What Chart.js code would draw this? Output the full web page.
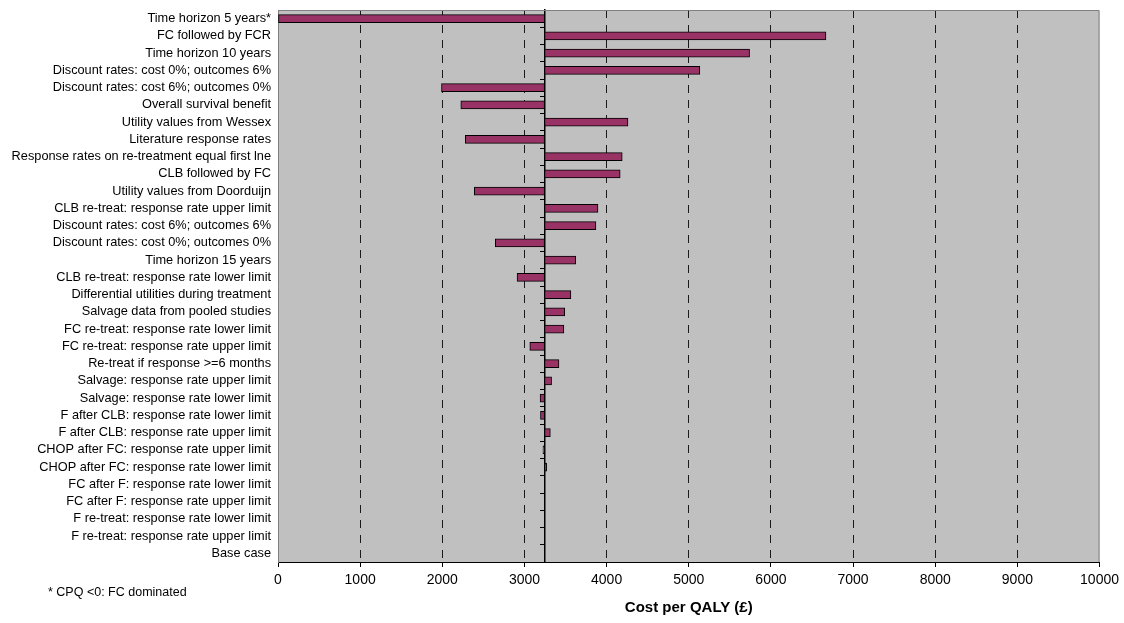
<!DOCTYPE html>
<html>
<head>
<meta charset="utf-8">
<title>Cost per QALY sensitivity analysis</title>
<script src="https://cdn.jsdelivr.net/npm/chart.js@4.4.1/dist/chart.umd.min.js"></script>
<style>
  html, body { margin: 0; padding: 0; background: #ffffff; }
  #wrap { width: 1124px; height: 623px; }
</style>
</head>
<body>
<div id="wrap"><canvas id="c" width="1124" height="623"></canvas></div>
<script>
// Scenario names, top to bottom
const categories = [
  'Time horizon 5 years*',
  'FC followed by FCR',
  'Time horizon 10 years',
  'Discount rates: cost 0%; outcomes 6%',
  'Discount rates: cost 6%; outcomes 0%',
  'Overall survival benefit',
  'Utility values from Wessex',
  'Literature response rates',
  'Response rates on re-treatment equal first lne',
  'CLB followed by FC',
  'Utility values from Doorduijn',
  'CLB re-treat: response rate upper limit',
  'Discount rates: cost 6%; outcomes 6%',
  'Discount rates: cost 0%; outcomes 0%',
  'Time horizon 15 years',
  'CLB re-treat: response rate lower limit',
  'Differential utilities during treatment',
  'Salvage data from pooled studies',
  'FC re-treat: response rate lower limit',
  'FC re-treat: response rate upper limit',
  'Re-treat if response >=6 months',
  'Salvage: response rate upper limit',
  'Salvage: response rate lower limit',
  'F after CLB: response rate lower limit',
  'F after CLB: response rate upper limit',
  'CHOP after FC: response rate upper limit',
  'CHOP after FC: response rate lower limit',
  'FC after F: response rate lower limit',
  'FC after F: response rate upper limit',
  'F re-treat: response rate lower limit',
  'F re-treat: response rate upper limit',
  'Base case'
];

// Base-case cost per QALY (£)
const baseCaseCPQ = 3245;

// Cost per QALY (£) under each scenario (5-year horizon is dominated, shown at axis minimum)
const scenarioCPQ = [
  0, 6670, 5740, 5135, 1990, 2225, 4260, 2280, 4190, 4165, 2390,
  3895, 3870, 2645, 3625, 2910, 3565, 3490, 3480, 3065, 3420,
  3330, 3190, 3195, 3315, 3225, 3270,
  3245, 3245, 3245, 3245, 3245
];

// Axis ticks (£)
const xTickValues = [0, 1000, 2000, 3000, 4000, 5000, 6000, 7000, 8000, 9000, 10000];

const FONT = '"Liberation Sans", Arial, Helvetica, sans-serif';

// Floating bars spanning base case -> scenario value
const barData = scenarioCPQ.map(v => [baseCaseCPQ, v]);

// Grey plot area with a grey frame, plus the footnote
const plotFrame = {
  id: 'plotFrame',
  beforeDraw(chart) {
    const { ctx, chartArea: a } = chart;
    ctx.save();
    ctx.fillStyle = '#C0C0C0';
    ctx.fillRect(a.left, a.top, a.right - a.left, a.bottom - a.top);
    ctx.restore();
  },
  afterDraw(chart) {
    const { ctx, chartArea: a } = chart;
    ctx.save();
    ctx.strokeStyle = '#808080';
    ctx.lineWidth = 1;
    ctx.beginPath();
    ctx.moveTo(a.left + 0.5, a.top + 0.5);
    ctx.lineTo(a.right - 0.5, a.top + 0.5);
    ctx.lineTo(a.right - 0.5, a.bottom);
    ctx.stroke();
    ctx.fillStyle = '#000';
    ctx.font = '12.5px ' + FONT;
    ctx.textAlign = 'left';
    ctx.textBaseline = 'middle';
    ctx.fillText('* CPQ <0: FC dominated', 48, 593);
    ctx.restore();
  }
};

function noVerticalPadding(scale) {
  scale.paddingTop = 0;
  scale.paddingBottom = 0;
}

new Chart(document.getElementById('c'), {
  type: 'bar',
  data: {
    labels: categories,
    datasets: [{
      data: barData,
      backgroundColor: '#993366',
      borderColor: '#000000',
      borderWidth: 1,
      borderSkipped: false,
      barThickness: 8
    }]
  },
  options: {
    indexAxis: 'y',
    responsive: false,
    animation: false,
    devicePixelRatio: 1,
    layout: { padding: { top: 10, right: 23, bottom: 0, left: 0 } },
    plugins: {
      legend: { display: false },
      tooltip: { enabled: false }
    },
    scales: {
      x: {
        type: 'linear',
        position: 'bottom',
        min: 0,
        max: 10000,
        afterBuildTicks(scale) {
          scale.ticks = xTickValues.map(v => ({ value: v }));
        },
        afterFit(scale) { scale.height = 61; },
        grid: {
          color: c => (c.tick && (c.tick.value === 0 || c.tick.value === 10000)) ? 'rgba(0,0,0,0)' : '#1a1a1a',
          tickColor: '#000000',
          lineWidth: 1,
          tickLength: 5
        },
        border: { display: true, color: '#000000', width: 1, dash: [8, 7] },
        ticks: {
          color: '#000000',
          font: { family: FONT, size: 14 },
          padding: 5,
          maxRotation: 0,
          callback: v => String(v)
        },
        title: {
          display: true,
          text: 'Cost per QALY (£)',
          color: '#000000',
          font: { family: FONT, size: 15, weight: 'bold' },
          padding: { top: 0, bottom: 6 }
        }
      },
      y: {
        type: 'category',
        position: 'left',
        offset: true,
        afterFit(scale) { scale.width = 278; noVerticalPadding(scale); },
        grid: { display: false, drawTicks: false, tickLength: 0 },
        border: { display: true, color: '#808080', width: 1 },
        ticks: {
          color: '#000000',
          font: { family: FONT, size: 12.75 },
          padding: 7,
          autoSkip: false
        }
      },
      // Vertical category axis crossing at the base case value
      yBase: {
        type: 'category',
        axis: 'y',
        position: { x: baseCaseCPQ },
        offset: true,
        afterFit: noVerticalPadding,
        grid: {
          display: true,
          offset: true,
          drawOnChartArea: false,
          drawTicks: true,
          tickLength: 4,
          tickColor: '#000000',
          color: '#000000'
        },
        border: { display: true, color: '#000000', width: 1.5 },
        ticks: { display: false }
      }
    }
  },
  plugins: [plotFrame]
});
</script>
</body>
</html>
